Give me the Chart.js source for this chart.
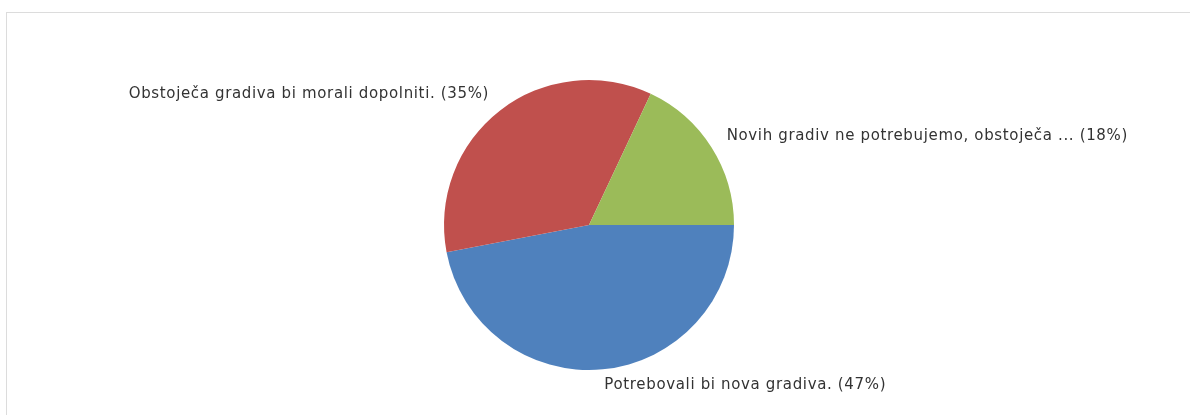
<!DOCTYPE html>
<html>
<head>
<meta charset="utf-8">
<script src="https://cdn.jsdelivr.net/npm/chart.js@4.4.1/dist/chart.umd.min.js"></script>
<style>
  html, body { margin: 0; padding: 0; background: #fff; }
  #wrap { position: relative; width: 1190px; height: 415px; overflow: hidden; }
  #frame { position: absolute; left: 6px; top: 12px; width: 1200px; height: 420px; border: 1px solid #dcdcdc; box-sizing: border-box; }
  canvas { position: absolute; left: 0; top: 0; }
</style>
</head>
<body>
<div id="wrap">
  <div id="frame"></div>
  <canvas id="pieChart" width="1190" height="415"></canvas>
</div>
<script>
const labels = [
  'Potrebovali bi nova gradiva.',
  'Obstoječa gradiva bi morali dopolniti.',
  'Novih gradiv ne potrebujemo, obstoječa ...'
];
const values = [47, 35, 18];
const colors = ['#4f81bd', '#c0504d', '#9bbb59'];

// draws "label (xx%)" outside each slice, no leader lines
const outsideLabels = {
  id: 'outsideLabels',
  afterDatasetsDraw(chart) {
    const ctx = chart.ctx;
    const meta = chart.getDatasetMeta(0);
    const total = values.reduce((a, b) => a + b, 0);
    ctx.save();
    ctx.font = '15px "DejaVu Sans", Verdana, sans-serif';
    ctx.letterSpacing = '0.65px';
    ctx.fillStyle = '#333';
    ctx.textBaseline = 'alphabetic';
    meta.data.forEach((arc, i) => {
      const mid = (arc.startAngle + arc.endAngle) / 2;
      const r = arc.outerRadius + 18;
      const x = arc.x + Math.cos(mid) * r;
      const y = arc.y + Math.sin(mid) * r + 2;
      ctx.textAlign = Math.cos(mid) >= 0 ? 'left' : 'right';
      const pct = Math.round(values[i] / total * 100);
      ctx.fillText(labels[i] + ' (' + pct + '%)', x, y);
    });
    ctx.restore();
  }
};

new Chart(document.getElementById('pieChart'), {
  type: 'pie',
  data: {
    labels: labels,
    datasets: [{
      data: values,
      backgroundColor: colors,
      borderWidth: 0
    }]
  },
  options: {
    responsive: false,
    animation: false,
    rotation: 90,
    layout: { padding: { top: 80, bottom: 45, left: 0, right: 12 } },
    plugins: {
      legend: { display: false },
      tooltip: { enabled: false }
    }
  },
  plugins: [outsideLabels]
});
</script>
</body>
</html>
